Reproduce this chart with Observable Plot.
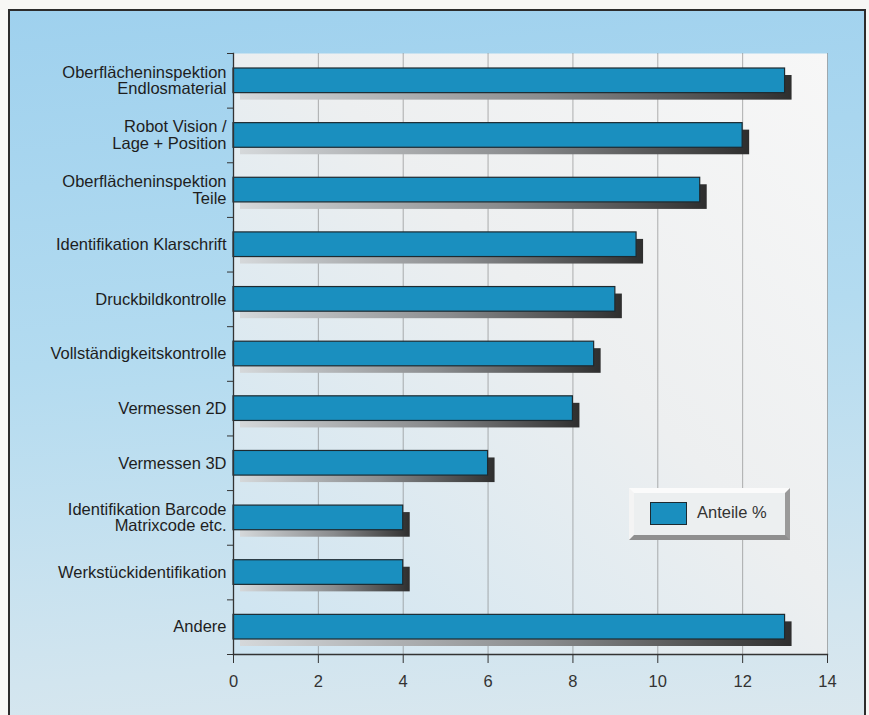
<!DOCTYPE html>
<html>
<head>
<meta charset="utf-8">
<script src="https://cdn.jsdelivr.net/npm/d3@7"></script>
<script src="https://cdn.jsdelivr.net/npm/@observablehq/plot@0.6"></script>
<style>
  html, body { margin: 0; padding: 0; background: #f7f7f5; }
  #wrap { position: relative; width: 869px; height: 715px; overflow: hidden; font-family: "Liberation Sans", Arial, sans-serif; }
  #frame { position: absolute; left: 8px; top: 9px; width: 854px; height: 720px; border: 2px solid #2c2c2c;
           background: linear-gradient(175deg, #9fd1ee 0%, #b3dbf0 45%, #d2e5ef 85%, #dce8ee 100%); }
  #chart { position: absolute; left: 0; top: 0; }
  #legend { position: absolute; left: 629px; top: 488px; width: 151px; height: 42px;
            background: #eceff0; border-style: solid; border-width: 5px;
            border-color: #fbfbfb #9a9a9a #8f8f8f #f4f4f4; }
  #legend .sw { position: absolute; left: 16px; top: 9px; width: 37px; height: 23px; background: #1a8fbf; border: 1px solid #1d2a30; box-sizing: border-box; }
  #legend .lb { position: absolute; left: 63px; top: 10px; font-size: 16.5px; color: #333; }
</style>
</head>
<body>
<div id="wrap">
  <div id="frame"></div>
  <div id="chart"></div>
  <div id="legend"><div class="sw"></div><div class="lb">Anteile %</div></div>
</div>
<script>
const categories = [
  "Oberflächeninspektion\nEndlosmaterial",
  "Robot Vision /\nLage + Position",
  "Oberflächeninspektion\nTeile",
  "Identifikation Klarschrift",
  "Druckbildkontrolle",
  "Vollständigkeitskontrolle",
  "Vermessen 2D",
  "Vermessen 3D",
  "Identifikation Barcode\nMatrixcode etc.",
  "Werkstückidentifikation",
  "Andere"
];
const values = [13, 12, 11, 9.5, 9, 8.5, 8, 6, 4, 4, 13];
const xTicks = [0, 2, 4, 6, 8, 10, 12, 14];
const seriesName = "Anteile %";

const data = categories.map((c, i) => ({cat: c, value: values[i]}));

const W = 869, H = 715, mL = 233, mR = 42, mT = 53, mB = 61;
const bw = (H - mT - mB) / categories.length;

const chart = Plot.plot({
  width: W, height: H,
  marginLeft: mL, marginRight: mR, marginTop: mT, marginBottom: mB,
  style: {background: "transparent", color: "#222", fontFamily: "Liberation Sans, Arial, sans-serif"},
  x: {domain: [0, 14], round: false},
  y: {domain: categories, padding: 0, round: false},
  marks: [
    Plot.frame({fill: "url(#plotBg)", stroke: null}),
    Plot.gridX(xTicks.slice(1), {stroke: "#777", strokeOpacity: 0.7, strokeWidth: 0.8}),
    Plot.barX(data, {x: "value", y: "cat", fill: "url(#shadowGrad)", dx: 7, dy: 7, insetTop: 15, insetBottom: 15}),
    Plot.barX(data, {x: "value", y: "cat", fill: "#1a8fbf", stroke: "#1d2a30", strokeWidth: 1.2, insetTop: 15, insetBottom: 15}),
    Plot.frame({anchor: "bottom", stroke: "#333", strokeWidth: 1.3}),
    Plot.frame({anchor: "left", stroke: "#333", strokeWidth: 1.3}),
    Plot.axisX({ticks: xTicks, tickSize: 9, tickPadding: 12, fontSize: 16.5, label: null, stroke: "#333", fill: "#333"}),
    Plot.axisY({tickSize: 0, tickPadding: 7, fontSize: 16.5, lineHeight: 1.0, label: null, fill: "#1e1e1e"}),
    Plot.axisY({tickSize: 6, text: null, label: null, dy: -bw / 2, stroke: "#333"}),
    Plot.axisY({ticks: [categories[categories.length - 1]], tickSize: 6, text: null, label: null, dy: bw / 2, stroke: "#333"})
  ]
});

const svg = d3.select(chart);
const defs = svg.insert("defs", ":first-child");
const g1 = defs.append("linearGradient").attr("id", "plotBg")
  .attr("x1", 1).attr("y1", 0).attr("x2", 0).attr("y2", 1);
g1.append("stop").attr("offset", 0).attr("stop-color", "#f7f7f7");
g1.append("stop").attr("offset", 0.45).attr("stop-color", "#edeff0");
g1.append("stop").attr("offset", 1).attr("stop-color", "#cde4f1");
const g2 = defs.append("linearGradient").attr("id", "shadowGrad")
  .attr("x1", 0).attr("y1", 0).attr("x2", 1).attr("y2", 0);
g2.append("stop").attr("offset", 0).attr("stop-color", "#d5d8da");
g2.append("stop").attr("offset", 0.55).attr("stop-color", "#8a8c8e");
g2.append("stop").attr("offset", 0.95).attr("stop-color", "#3a3a3a");
g2.append("stop").attr("offset", 1).attr("stop-color", "#2e2e2e");

document.getElementById("chart").appendChild(chart);
</script>
</body>
</html>
